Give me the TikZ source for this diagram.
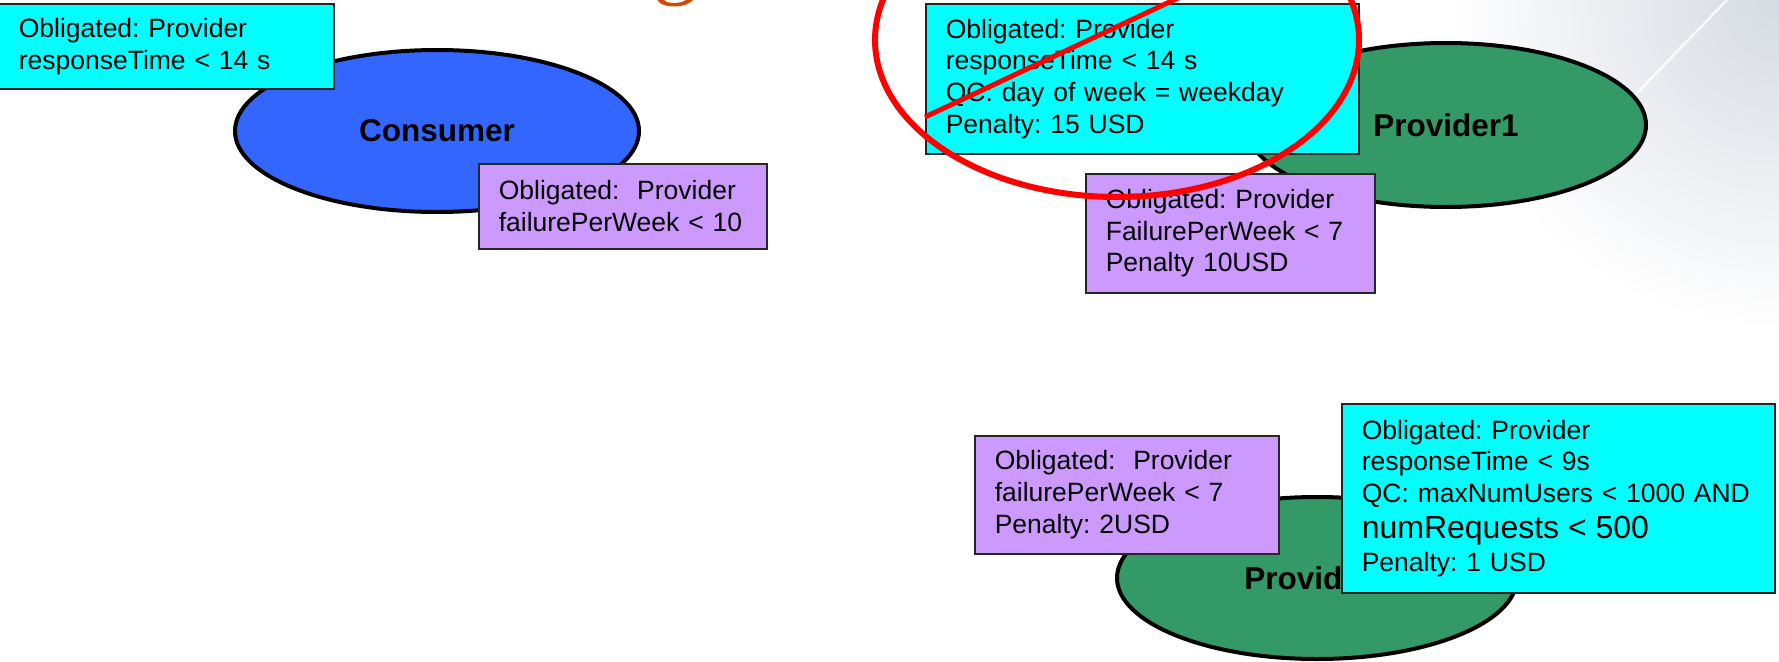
\documentclass[tikz,border=0pt]{standalone}
\usepackage{fontspec}
\setmainfont{Liberation Sans}
\newfontfamily\titleserif{Liberation Serif}
\usetikzlibrary{shapes.geometric}
\frenchspacing

\definecolor{qcyan}{HTML}{00FFFF}
\definecolor{qlilac}{HTML}{CC99FF}
\definecolor{qblue}{HTML}{3366FF}
\definecolor{qgreen}{HTML}{339966}
\definecolor{qtitle}{HTML}{D04A0A}
\definecolor{qhaze}{HTML}{D6DAE2}
\definecolor{qveto}{HTML}{FF0000}

\begin{document}
\begin{tikzpicture}[x=1pt,y=-1pt,
  party/.style={ellipse, draw=black, line width=4pt, inner sep=0pt,
    font=\fontsize{31.5}{36}\selectfont\bfseries},
  term/.style={rectangle, draw=black!85, line width=1.6pt, anchor=north west,
    align=left, inner xsep=20pt, inner ysep=0pt,
    font=\fontsize{26.5}{31.7}\selectfont},
  offer/.style={term, fill=qcyan},
  limit/.style={term, fill=qlilac},
]
\path[use as bounding box, clip] (0,0) rectangle (1779,661);
\fill[white] (0,0) rectangle (1779,661);

% soft slide background
\shade[inner color=qhaze, outer color=white] (1779,0) circle (330pt);
\draw[white, line width=2pt, opacity=.8] (1430,40) -- (1457,0);
\draw[white, line width=2.5pt, opacity=.8] (1633,97) -- (1727,0);

% descender of the slide title above the frame
\node[text=qtitle, font=\titleserif\fontsize{90}{100}\selectfont,
  anchor=base, inner sep=0pt] (titleg) at (676,-12) {g};

% consumer side
\node[party, fill=qblue, minimum width=404pt, minimum height=162pt]
  (consumer) at (437,131) {Consumer};
\node[offer, text width=295pt, minimum height=85pt] (crt) at (-2,3)
  {Obligated: Provider\\responseTime < 14 s};
\node[limit, text width=248pt, minimum height=85pt] (cfail) at (478,163)
  {Obligated:\ \ Provider\\failurePerWeek < 10};

% first provider
\node[party, fill=qgreen, minimum width=400pt, minimum height=164pt]
  (prov1) at (1446,125) {Provider1};
\node[offer, text width=393pt, minimum height=150pt] (p1rt) at (925,3)
  {Obligated: Provider\\responseTime < 14 s\\QC: day of week = weekday\\Penalty: 15 USD};
\node[limit, text width=249pt, minimum height=119pt] (p1fail) at (1085,173)
  {Obligated: Provider\\FailurePerWeek < 7\\Penalty 10USD};

% second provider
\node[party, fill=qgreen, minimum width=400pt, minimum height=162pt]
  (prov2) at (1317,578) {Provider2};
\node[limit, text width=264pt, minimum height=118pt] (p2fail) at (974,435)
  {Obligated:\ \ Provider\\failurePerWeek < 7\\Penalty: 2USD};
\node[offer, text width=393pt, minimum height=189pt] (p2rt) at (1341,403)
  {Obligated: Provider\\responseTime < 9s\\QC: maxNumUsers < 1000 AND\\[4pt]
   {\fontsize{32}{35}\selectfont numRequests < 500}\\[1pt]Penalty: 1 USD};

% the rejected offer is circled and struck out
\node[ellipse, draw=qveto, line width=6pt, minimum width=484pt,
  minimum height=314pt, inner sep=0pt] (veto) at (1117,40) {};
\coordinate (strikeA) at (925,117);
\coordinate (strikeB) at (1195,-10);
\draw[qveto, line width=5pt] (strikeA) -- (strikeB);
\end{tikzpicture}
\end{document}
